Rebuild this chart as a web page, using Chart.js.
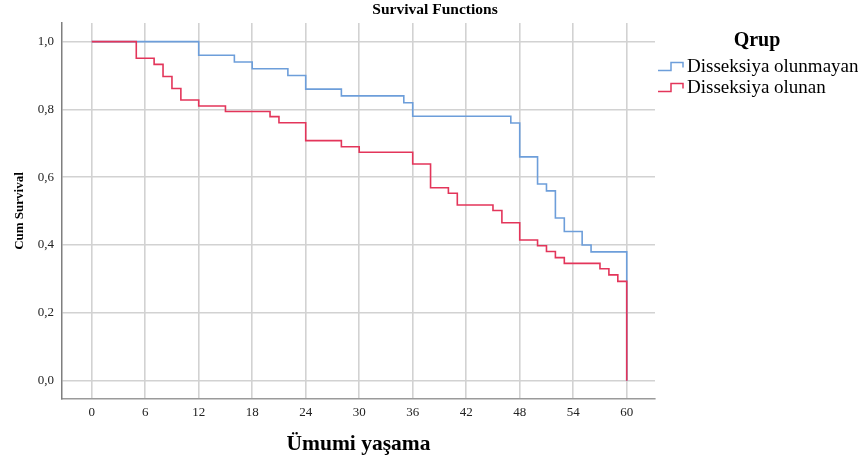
<!DOCTYPE html>
<html>
<head>
<meta charset="utf-8">
<script src="https://cdn.jsdelivr.net/npm/chart.js@4/dist/chart.umd.min.js"></script>
<style>
  html, body { margin: 0; padding: 0; background: #fff; }
  #wrap { width: 858px; height: 460px; position: relative; }
</style>
</head>
<body>
<div id="wrap"><canvas id="km"></canvas></div>
<script>
const seriesNames = ['Disseksiya olunmayan', 'Disseksiya olunan'];

// Disseksiya olunmayan
const notDissTimes = [0, 12, 16, 18, 22, 24, 28, 35, 36, 47, 48, 50, 51, 52, 53, 55, 56, 60];
const notDissSurv = [1, 0.96, 0.94, 0.92, 0.90, 0.86, 0.84, 0.82, 0.78, 0.76, 0.66, 0.58, 0.56, 0.48, 0.44, 0.40, 0.38, 0];

// Disseksiya olunan
const dissTimes = [0, 5, 7, 8, 9, 10, 12, 15, 20, 21, 24, 28, 30, 36, 38, 40, 41, 45, 46, 48, 50, 51, 52, 53, 57, 58, 59, 60];
const dissSurv = [1, 0.951, 0.933, 0.897, 0.862, 0.828, 0.81, 0.794, 0.779, 0.761, 0.708, 0.69, 0.674, 0.639, 0.569, 0.553, 0.518, 0.502, 0.466, 0.415, 0.398, 0.381, 0.363, 0.346, 0.33, 0.312, 0.293, 0];

const xTicks = [0, 6, 12, 18, 24, 30, 36, 42, 48, 54, 60];
const yTicks = [0, 0.2, 0.4, 0.6, 0.8, 1.0];

const blue = '#6d9eda';
const red = '#e3355a';
const serif = '"Liberation Serif", "Times New Roman", serif';

function toPoints(times, surv) {
    return times.map((t, i) => ({ x: t, y: surv[i] }));
}

// title + legend at the right side, SPSS style with little step glyphs
const sideLegend = {
    id: 'sideLegend',
    afterDraw(chart) {
        const c = chart.ctx;
        c.save();
        c.fillStyle = '#000';
        c.textAlign = 'center';
        c.textBaseline = 'middle';
        c.font = 'bold 15.5px ' + serif;
        c.fillText('Survival Functions', 435, 10);

        c.font = 'bold 20px ' + serif;
        c.fillText('Qrup', 757, 41);

        const colors = [blue, red];
        const rows = [67, 88];
        c.font = '19px ' + serif;
        c.textAlign = 'left';
        rows.forEach((y, i) => {
            c.strokeStyle = colors[i];
            c.lineWidth = 1.5;
            c.beginPath();
            c.moveTo(658, y + 3.5);
            c.lineTo(671, y + 3.5);
            c.lineTo(671, y - 4.5);
            c.lineTo(683, y - 4.5);
            c.lineTo(683, y + 0.5);
            c.stroke();
            c.fillText(seriesNames[i], 687, y);
        });
        c.restore();
    }
};

const chart = new Chart(document.getElementById('km'), {
    type: 'line',
    data: {
        datasets: [
            {
                label: seriesNames[0],
                data: toPoints(notDissTimes, notDissSurv),
                borderColor: blue,
                borderWidth: 1.6,
                stepped: 'before',
                pointRadius: 0,
                fill: false,
                order: 1
            },
            {
                label: seriesNames[1],
                data: toPoints(dissTimes, dissSurv),
                borderColor: red,
                borderWidth: 1.6,
                stepped: 'before',
                pointRadius: 0,
                fill: false,
                order: 0
            }
        ]
    },
    options: {
        responsive: true,
        maintainAspectRatio: false,
        animation: false,
        layout: {
            padding: { left: 0, right: 203, top: 23, bottom: 0 }
        },
        plugins: {
            legend: { display: false },
            tooltip: { enabled: false },
            title: { display: false }
        },
        scales: {
            x: {
                type: 'linear',
                min: -3.33,
                max: 63.17,
                afterFit(scale) { scale.height = 61; },
                afterBuildTicks(scale) { scale.ticks = xTicks.map(v => ({ value: v })); },
                grid: { color: '#d2d2d2', lineWidth: 1.6, drawTicks: false },
                border: { color: '#9a9a9a', width: 1.5 },
                ticks: {
                    color: '#222',
                    font: { family: serif, size: 13 },
                    padding: 6,
                    maxRotation: 0
                },
                title: {
                    display: true,
                    text: 'Ümumi yaşama',
                    color: '#000',
                    font: { family: serif, size: 21.5, weight: 'bold' },
                    padding: { top: 0, bottom: 3 }
                }
            },
            y: {
                type: 'linear',
                min: -0.054,
                max: 1.055,
                afterFit(scale) { scale.width = 62; },
                afterBuildTicks(scale) { scale.ticks = yTicks.map(v => ({ value: v })); },
                grid: { color: '#d2d2d2', lineWidth: 1.6, drawTicks: false },
                border: { color: '#7f7f7f', width: 1.5 },
                ticks: {
                    color: '#222',
                    font: { family: serif, size: 13 },
                    padding: 8,
                    callback: v => v.toFixed(1).replace('.', ',')
                },
                title: {
                    display: true,
                    text: 'Cum Survival',
                    color: '#000',
                    font: { family: serif, size: 13, weight: 'bold' },
                    padding: { top: 12, bottom: 0 }
                }
            }
        }
    },
    plugins: [sideLegend]
});
</script>
</body>
</html>
